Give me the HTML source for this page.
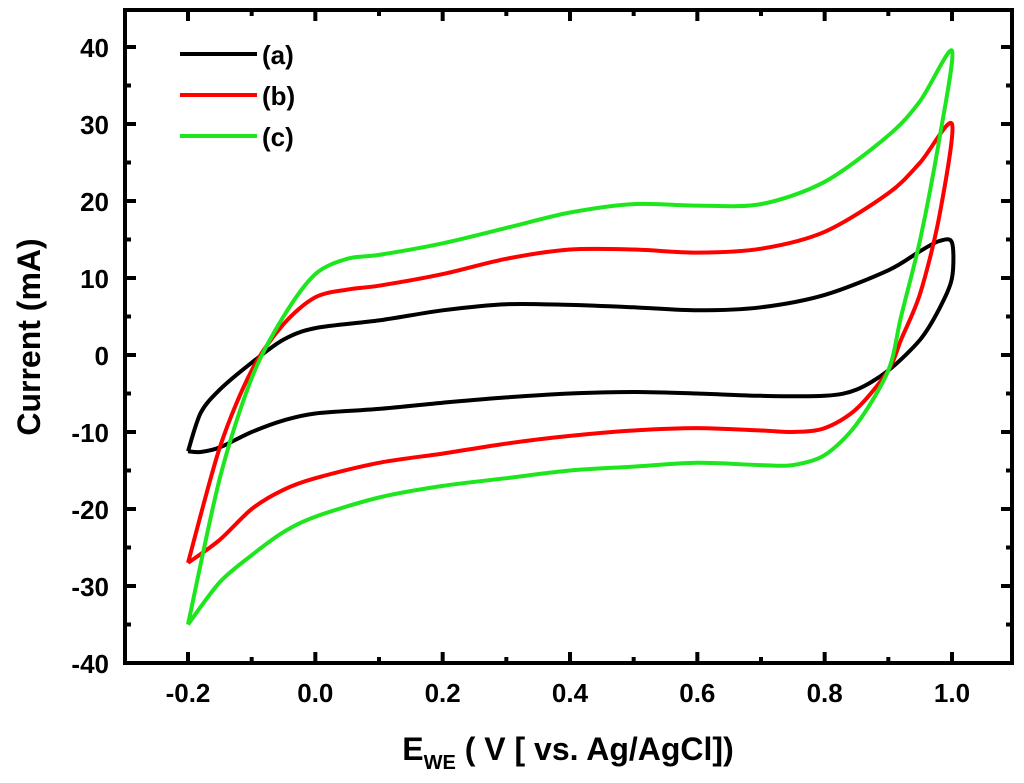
<!DOCTYPE html>
<html><head><meta charset="utf-8"><style>
body{margin:0;background:#fff}
svg{display:block;font-family:"Liberation Sans",Arial,sans-serif;font-weight:bold}
</style></head><body>
<svg id="chart" width="1024" height="783" viewBox="0 0 1024 783">
<rect x="125" y="10" width="887" height="653" fill="none" stroke="#000" stroke-width="4"/>
<g id="axes"></g>
<g id="series"></g>
<g>
<line x1="180" y1="54" x2="257" y2="54" stroke="#000" stroke-width="4"/>
<text x="262" y="64" font-size="26">(a)</text>
<line x1="180" y1="95" x2="257" y2="95" stroke="#f00" stroke-width="4"/>
<text x="262" y="105" font-size="26">(b)</text>
<line x1="180" y1="136" x2="257" y2="136" stroke="#1ee61e" stroke-width="4"/>
<text x="262" y="146" font-size="26">(c)</text>
</g>
<text transform="translate(40,337) rotate(-90)" text-anchor="middle" font-size="32">Current (mA)</text>
<text x="568" y="760" text-anchor="middle" font-size="32">E<tspan font-size="20" dy="9">WE</tspan><tspan dy="-9"> ( V [ vs. Ag/AgCl])</tspan></text>
</svg>
<script>
const xTicks=[-0.2,0,0.2,0.4,0.6,0.8,1.0];
const xTickLabels=["-0.2","0.0","0.2","0.4","0.6","0.8","1.0"];
const yTicks=[-40,-30,-20,-10,0,10,20,30,40];
const seriesNames=["(a)","(b)","(c)"];
const seriesColors=["#000","#f00","#1ee61e"];
const aX=[-0.2,-0.18,-0.15,-0.1,-0.05,0,0.1,0.2,0.3,0.4,0.5,0.6,0.7,0.8,0.9,0.95,0.98,1.0,1.0,0.98,0.95,0.9,0.85,0.8,0.7,0.6,0.5,0.4,0.3,0.2,0.1,0,-0.05,-0.1,-0.15,-0.18,-0.2];
const aY=[-12.5,-7.5,-4.5,-1,2,3.5,4.5,5.8,6.6,6.5,6.2,5.8,6.2,7.8,11,13.5,14.8,14.6,10,6,2,-2,-4.5,-5.3,-5.3,-5,-4.8,-5,-5.5,-6.2,-7,-7.6,-8.5,-10,-12,-12.6,-12.5];
const bX=[-0.2,-0.15,-0.1,-0.05,0,0.05,0.1,0.2,0.3,0.4,0.5,0.6,0.7,0.8,0.9,0.95,1.0,0.98,0.95,0.92,0.9,0.85,0.8,0.75,0.7,0.6,0.5,0.4,0.3,0.2,0.1,0,-0.05,-0.1,-0.15,-0.2];
const bY=[-27,-12,-2,4,7.5,8.5,9,10.5,12.5,13.7,13.7,13.3,13.8,16,21,25,30,18,8,2,-2,-7,-9.5,-10,-9.8,-9.5,-9.8,-10.5,-11.5,-12.8,-14,-16,-17.5,-20,-24,-27];
const cX=[-0.2,-0.15,-0.1,-0.05,0,0.05,0.1,0.2,0.3,0.4,0.5,0.6,0.7,0.8,0.9,0.95,1.0,0.98,0.95,0.92,0.9,0.85,0.8,0.75,0.7,0.6,0.5,0.4,0.3,0.2,0.1,0,-0.05,-0.1,-0.15,-0.2];
const cY=[-35,-16,-3,5,10.5,12.5,13,14.5,16.5,18.5,19.6,19.4,19.6,22.5,28.5,33,39.5,28,15,5,-2,-9,-13,-14.3,-14.3,-14,-14.5,-15,-16,-17,-18.5,-21,-23,-26,-29.5,-35];
const NS="http://www.w3.org/2000/svg";
const L=125,R=1012,T=10,B=663;
function sx(v){return 188+(v+0.2)*(952-188)/1.2;}
function sy(v){return 355-v*7.7;}
const axes=document.getElementById('axes');
function line(x1,y1,x2,y2){const l=document.createElementNS(NS,'line');l.setAttribute('x1',x1);l.setAttribute('y1',y1);l.setAttribute('x2',x2);l.setAttribute('y2',y2);l.setAttribute('stroke','#000');l.setAttribute('stroke-width','4');axes.appendChild(l);return l;}
for(let i=0;i<xTicks.length;i++){
 const x=sx(xTicks[i]);
 const t1=line(x,B,x,B-11);
 
 
 const t2=line(x,T,x,T+11);
 
 
 if(i<xTicks.length-1){const xm=sx(xTicks[i]+0.1);
  const m1=line(xm,B,xm,B-6);
  
  
  const m2=line(xm,T,xm,T+6);
  
  }
 const tx=document.createElementNS(NS,'text');tx.setAttribute('x',x);tx.setAttribute('y',702);tx.setAttribute('text-anchor','middle');tx.setAttribute('font-size','26');tx.textContent=xTickLabels[i];
 
 
 axes.appendChild(tx);
}
for(let i=0;i<yTicks.length;i++){
 const y=sy(yTicks[i]);
 const t1=line(L,y,L+11,y);
 
 
 const t2=line(R,y,R-11,y);
 
 
 if(i<yTicks.length-1){const ym=sy(yTicks[i]+5);
  const m1=line(L,ym,L+6,ym);
  
  
  const m2=line(R,ym,R-6,ym);
  
  }
 const tx=document.createElementNS(NS,'text');tx.setAttribute('x',109);tx.setAttribute('y',y+10);tx.setAttribute('text-anchor','end');tx.setAttribute('font-size','26');tx.textContent=String(yTicks[i]);
 
 
 axes.appendChild(tx);
}
function smooth(P){
 let d='M'+P[0][0].toFixed(1)+','+P[0][1].toFixed(1);
 for(let i=0;i<P.length-1;i++){
  const p0=P[Math.max(0,i-1)],p1=P[i],p2=P[i+1],p3=P[Math.min(P.length-1,i+2)];
  const k=0.15;
  const c1=[p1[0]+(p2[0]-p0[0])*k,p1[1]+(p2[1]-p0[1])*k];
  const c2=[p2[0]-(p3[0]-p1[0])*k,p2[1]-(p3[1]-p1[1])*k];
  d+=' C'+c1[0].toFixed(1)+','+c1[1].toFixed(1)+' '+c2[0].toFixed(1)+','+c2[1].toFixed(1)+' '+p2[0].toFixed(1)+','+p2[1].toFixed(1);
 }
 return d;
}
const sg=document.getElementById('series');
const allX=[aX,bX,cX],allY=[aY,bY,cY];
for(let s=0;s<3;s++){
 const P=allX[s].map((x,i)=>[sx(x),sy(allY[s][i])]);
 const p=document.createElementNS(NS,'path');
 p.setAttribute('d',smooth(P));p.setAttribute('fill','none');p.setAttribute('stroke',seriesColors[s]);
 p.setAttribute('stroke-width','4');p.setAttribute('stroke-linejoin','round');
 
 
 sg.appendChild(p);
}
</script>
</body></html>
